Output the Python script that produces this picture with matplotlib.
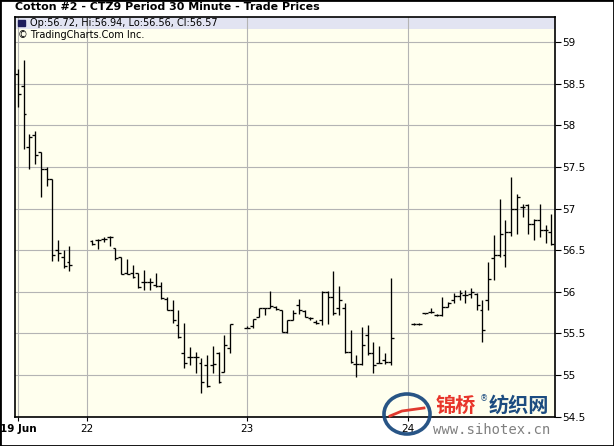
import matplotlib
matplotlib.use("Agg")
import matplotlib.pyplot as plt
from matplotlib.patches import Rectangle, Ellipse
from matplotlib.lines import Line2D

# 30 minute bars, 28 slots per trading day on the chart
slots_per_day = 28
# (day position, first slot, number of bars)
sessions = [(-1, 16, 10), (0, 1, 25), (1, 0, 26), (2, 1, 25)]
day_ticks = [-1 + 16 / 28, 0, 1, 2]
day_labels = ["19 Jun", "22", "23", "24"]

opens = [
    # 19 Jun
    58.61, 58.47, 57.74, 57.88, 57.68, 57.47, 57.35, 56.50, 56.42, 56.36,
    # 22
    56.61, 56.62, 56.64, 56.66, 56.52, 56.42, 56.22, 56.22, 56.22, 56.12, 56.12, 56.08, 56.07,
    55.91, 55.78, 55.60, 55.26, 55.22, 55.22, 55.14, 55.12, 55.12, 55.26, 55.04, 55.32,
    # 23
    55.56, 55.59, 55.70, 55.80, 55.80, 55.82, 55.78, 55.52, 55.66, 55.84, 55.77, 55.68, 55.64,
    55.66, 56.00, 55.94, 55.80, 55.80, 55.28, 55.13, 55.13, 55.48, 55.26, 55.14, 55.18, 55.16,
    # 24
    55.61, 55.61, 55.74, 55.76, 55.72, 55.72, 55.82, 55.90, 55.95, 55.96, 55.97, 55.97, 55.78,
    55.90, 56.41, 56.44, 56.44, 56.72, 56.99, 57.02, 57.04, 56.82, 56.86, 56.74, 56.72,
]
highs = [
    58.68, 58.78, 57.90, 57.93, 57.68, 57.50, 57.35, 56.62, 56.50, 56.55,
    56.62, 56.63, 56.66, 56.67, 56.52, 56.42, 56.39, 56.32, 56.22, 56.26, 56.16, 56.22, 56.12,
    55.94, 55.90, 55.78, 55.62, 55.34, 55.28, 55.20, 55.24, 55.35, 55.28, 55.48, 55.61,
    55.59, 55.67, 55.80, 55.80, 56.01, 55.83, 55.78, 55.66, 55.78, 55.91, 55.78, 55.70, 55.66,
    56.01, 56.01, 56.25, 56.07, 55.86, 55.54, 55.24, 55.58, 55.60, 55.40, 55.35, 55.26, 56.16,
    55.62, 55.62, 55.75, 55.80, 55.73, 55.94, 55.88, 55.98, 56.02, 56.02, 56.04, 55.98, 55.90,
    56.36, 56.68, 57.12, 56.86, 57.38, 57.18, 57.06, 57.05, 56.88, 57.05, 56.80, 56.94,
]
lows = [
    58.22, 57.72, 57.47, 57.54, 57.14, 57.27, 56.37, 56.37, 56.28, 56.25,
    56.56, 56.51, 56.60, 56.55, 56.38, 56.21, 56.21, 56.16, 56.04, 56.02, 56.02, 56.06, 55.91,
    55.78, 55.62, 55.44, 55.08, 55.12, 55.02, 54.78, 54.86, 55.02, 54.90, 55.04, 55.26,
    55.56, 55.56, 55.70, 55.72, 55.80, 55.78, 55.52, 55.50, 55.66, 55.73, 55.70, 55.66, 55.61,
    55.60, 55.61, 55.72, 55.72, 55.26, 55.14, 54.98, 55.12, 55.24, 55.02, 55.14, 55.13, 55.12,
    55.60, 55.60, 55.73, 55.74, 55.71, 55.71, 55.82, 55.86, 55.90, 55.86, 55.92, 55.78, 55.40,
    55.78, 56.14, 56.42, 56.30, 56.67, 56.69, 56.90, 56.70, 56.62, 56.66, 56.58, 56.56,
]
closes = [
    58.38, 58.14, 57.86, 57.64, 57.47, 57.36, 56.44, 56.46, 56.31, 56.32,
    56.57, 56.62, 56.64, 56.66, 56.40, 56.21, 56.21, 56.18, 56.06, 56.12, 56.12, 56.07, 55.92,
    55.78, 55.66, 55.46, 55.14, 55.22, 55.22, 54.92, 54.87, 55.13, 54.92, 55.36, 55.61,
    55.56, 55.67, 55.80, 55.80, 55.83, 55.79, 55.52, 55.66, 55.74, 55.78, 55.70, 55.68, 55.62,
    56.00, 55.94, 55.74, 55.90, 55.28, 55.16, 55.13, 55.36, 55.26, 55.12, 55.14, 55.16, 55.44,
    55.61, 55.61, 55.74, 55.76, 55.72, 55.82, 55.86, 55.95, 55.98, 55.96, 56.00, 55.84, 55.54,
    56.15, 56.44, 56.70, 56.72, 56.99, 57.14, 57.02, 56.82, 56.86, 56.74, 56.74, 56.57,
]

# bar positions in day units
xs = []
for day, first, n in sessions:
    for k in range(n):
        xs.append(day + (first + k) / slots_per_day)

W, H = 614, 446
fig = plt.figure(figsize=(W / 100, H / 100), dpi=100)
fig.patch.set_facecolor("white")

ax = fig.add_axes([15 / W, 29.3 / H, 540 / W, 399.7 / H])
ax.set_facecolor("#FFFFEE")
ax.set_xlim(-0.4465, 2.916)
ax.set_ylim(54.5, 59.30)

# header band
ax.axhspan(59.156, 59.30, color="#E2E4F2", zorder=1, lw=0)

tick = 0.5 / slots_per_day
ax.vlines(xs, lows, highs, color="black", lw=0.95, zorder=3)
ax.hlines(opens, [x - tick for x in xs], xs, color="black", lw=0.95, zorder=3)
ax.hlines(closes, xs, [x + tick for x in xs], color="black", lw=0.95, zorder=3)

yticks = [54.5, 55, 55.5, 56, 56.5, 57, 57.5, 58, 58.5, 59]
ax.set_yticks(yticks)
ax.set_yticklabels(["%g" % v for v in yticks])
ax.yaxis.tick_right()
ax.set_xticks(day_ticks)
ax.set_xticklabels(day_labels)
ax.get_xticklabels()[0].set_fontweight("bold")
ax.tick_params(axis="y", direction="out", length=4, width=0.8, labelsize=7.5, pad=1)
ax.tick_params(axis="x", direction="out", length=3, width=0.8, labelsize=7.5, pad=2)
ax.grid(True, color="#B4B4B4", lw=0.8)
for s in ax.spines.values():
    s.set_color("black")
    s.set_linewidth(1.2)

ax.add_patch(Rectangle((0.006, 0.9785), 0.012, 0.014, transform=ax.transAxes,
                       color="#1C1C5C", zorder=4))
ax.text(0.027, 0.985, "Op:56.72, Hi:56.94, Lo:56.56, Cl:56.57", transform=ax.transAxes,
        fontsize=7, va="center", ha="left", zorder=4)
ax.text(0.006, 0.955, "\u00a9 TradingCharts.Com Inc.", transform=ax.transAxes,
        fontsize=7, va="center", ha="left", zorder=4)

fig.text(15 / W, 1 - 7.5 / H, "Cotton #2 - CTZ9 Period 30 Minute - Trade Prices",
         fontsize=7.9, fontweight="bold", va="center", ha="left")

# outer frame
fig.patches.append(Rectangle((0, 0), 1, 1, transform=fig.transFigure, fill=False,
                             ec="black", lw=2))

# watermark
cjk = ["Noto Sans CJK SC", "DejaVu Sans"]
fig.patches.append(Ellipse((407 / W, 1 - 414 / H), 46 / W, 40 / H, transform=fig.transFigure,
                           fill=False, ec="#1C4C80", lw=2.6, alpha=0.95, zorder=5))
fig.lines.append(Line2D([390 / W, 402 / W, 424 / W], [1 - 416 / H, 1 - 411 / H, 1 - 408 / H],
                        transform=fig.transFigure, color="#E03A2E", lw=2.0, zorder=6))
fig.text(436 / W, 1 - 405 / H, "锦桥", family=cjk, color="#E8352A", fontsize=14.5,
         fontweight="bold", va="center", ha="left")
fig.text(480 / W, 1 - 399 / H, "®", color="#1C4C80", fontsize=6, va="center", ha="left")
fig.text(489 / W, 1 - 405 / H, "纺织网", family=cjk, color="#1C4C80", fontsize=14.5,
         fontweight="bold", va="center", ha="left")
fig.text(433 / W, 1 - 430 / H, "www.sihotex.cn", family="DejaVu Sans Mono", color="#808080",
         fontsize=10, va="center", ha="left")

fig.savefig("out.png", dpi=100)
